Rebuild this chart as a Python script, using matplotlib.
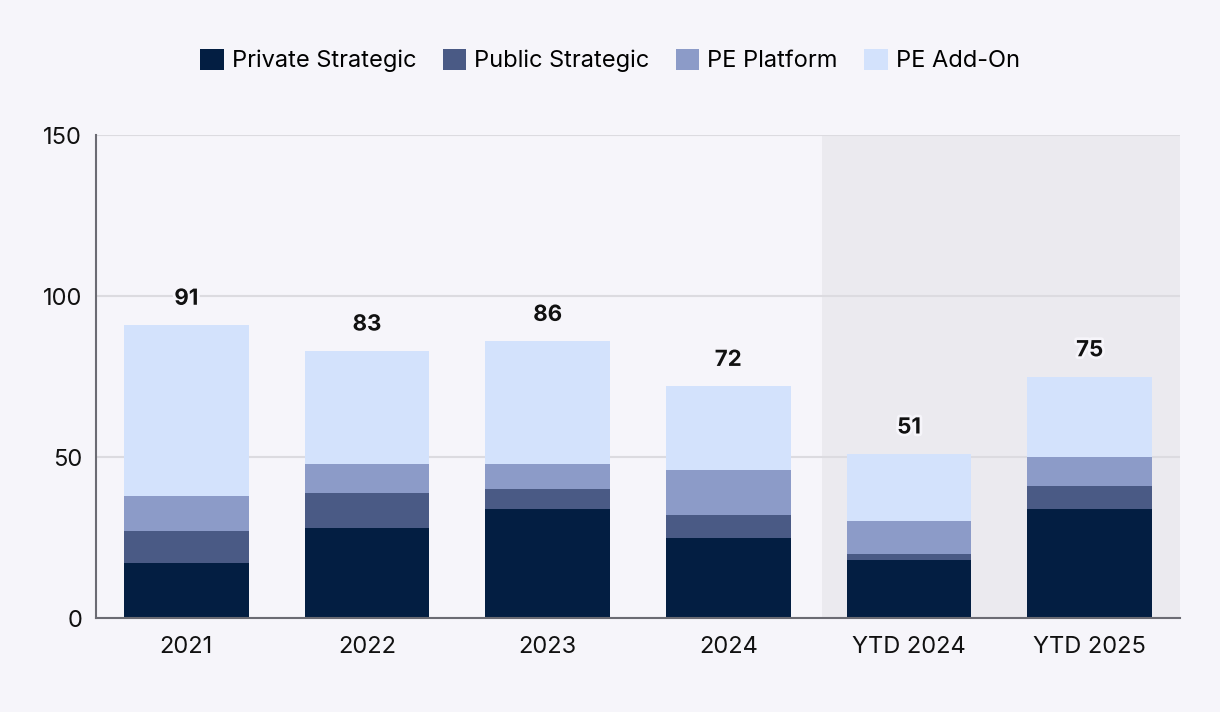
import matplotlib.pyplot as plt
import matplotlib.patheffects as pe
import numpy as np

plt.rcParams['font.family'] = ['Inter', 'DejaVu Sans']

# data
categories = ["2021", "2022", "2023", "2024", "YTD 2024", "YTD 2025"]
private_strategic = [17, 28, 34, 25, 18, 34]
public_strategic = [10, 11, 6, 7, 2, 7]
pe_platform = [11, 9, 8, 14, 10, 9]
pe_addon = [53, 35, 38, 26, 21, 25]

series = [
    ("Private Strategic", private_strategic, "#031e42"),
    ("Public Strategic", public_strategic, "#4a5a85"),
    ("PE Platform", pe_platform, "#8c9bc8"),
    ("PE Add-On", pe_addon, "#d3e2fc"),
]

bg = "#f6f5fa"
fig = plt.figure(figsize=(12.2, 7.12), dpi=100, facecolor=bg)
ax = fig.add_axes([0.0787, 0.132, 0.8885, 0.678])
ax.set_facecolor(bg)

x = np.arange(len(categories))
ax.set_xlim(-0.5, len(categories) - 0.5)
ax.set_ylim(0, 150)

# shaded YTD region
ax.axvspan(3.52, 5.5, color="#ebeaef", zorder=0, lw=0)

bottom = np.zeros(len(categories))
for name, vals, col in series:
    ax.bar(x, vals, width=0.69, bottom=bottom, color=col, label=name, zorder=3)
    bottom += np.array(vals)

for xi, tot in zip(x, bottom):
    ax.annotate(f"{int(tot)}", (xi, tot), xytext=(0, 19), textcoords="offset points",
                ha="center", va="center", fontsize=16, fontweight="bold", color="#111111",
                zorder=5, path_effects=[pe.withStroke(linewidth=4, foreground=bg)])

ax.set_yticks([0, 50, 100, 150])
ax.yaxis.grid(True, color="#dcdbe0", lw=1.5, zorder=1)
ax.set_axisbelow(True)
ax.set_xticks(x)
ax.set_xticklabels(categories)
ax.tick_params(axis="both", length=0, labelsize=17, colors="#111111")
ax.tick_params(axis="x", pad=13)
ax.tick_params(axis="y", pad=10)

for s in ["top", "right"]:
    ax.spines[s].set_visible(False)
for s in ["left", "bottom"]:
    ax.spines[s].set_color("#6b6b73")
    ax.spines[s].set_linewidth(1.5)
    ax.spines[s].set_zorder(4)

fig.legend(loc="center", bbox_to_anchor=(0.5, 0.915), ncol=4, frameon=False,
           fontsize=17, handlelength=1.0, handleheight=1.0, handletextpad=0.35,
           columnspacing=1.1)

plt.savefig("out.png", dpi=100, facecolor=bg)
